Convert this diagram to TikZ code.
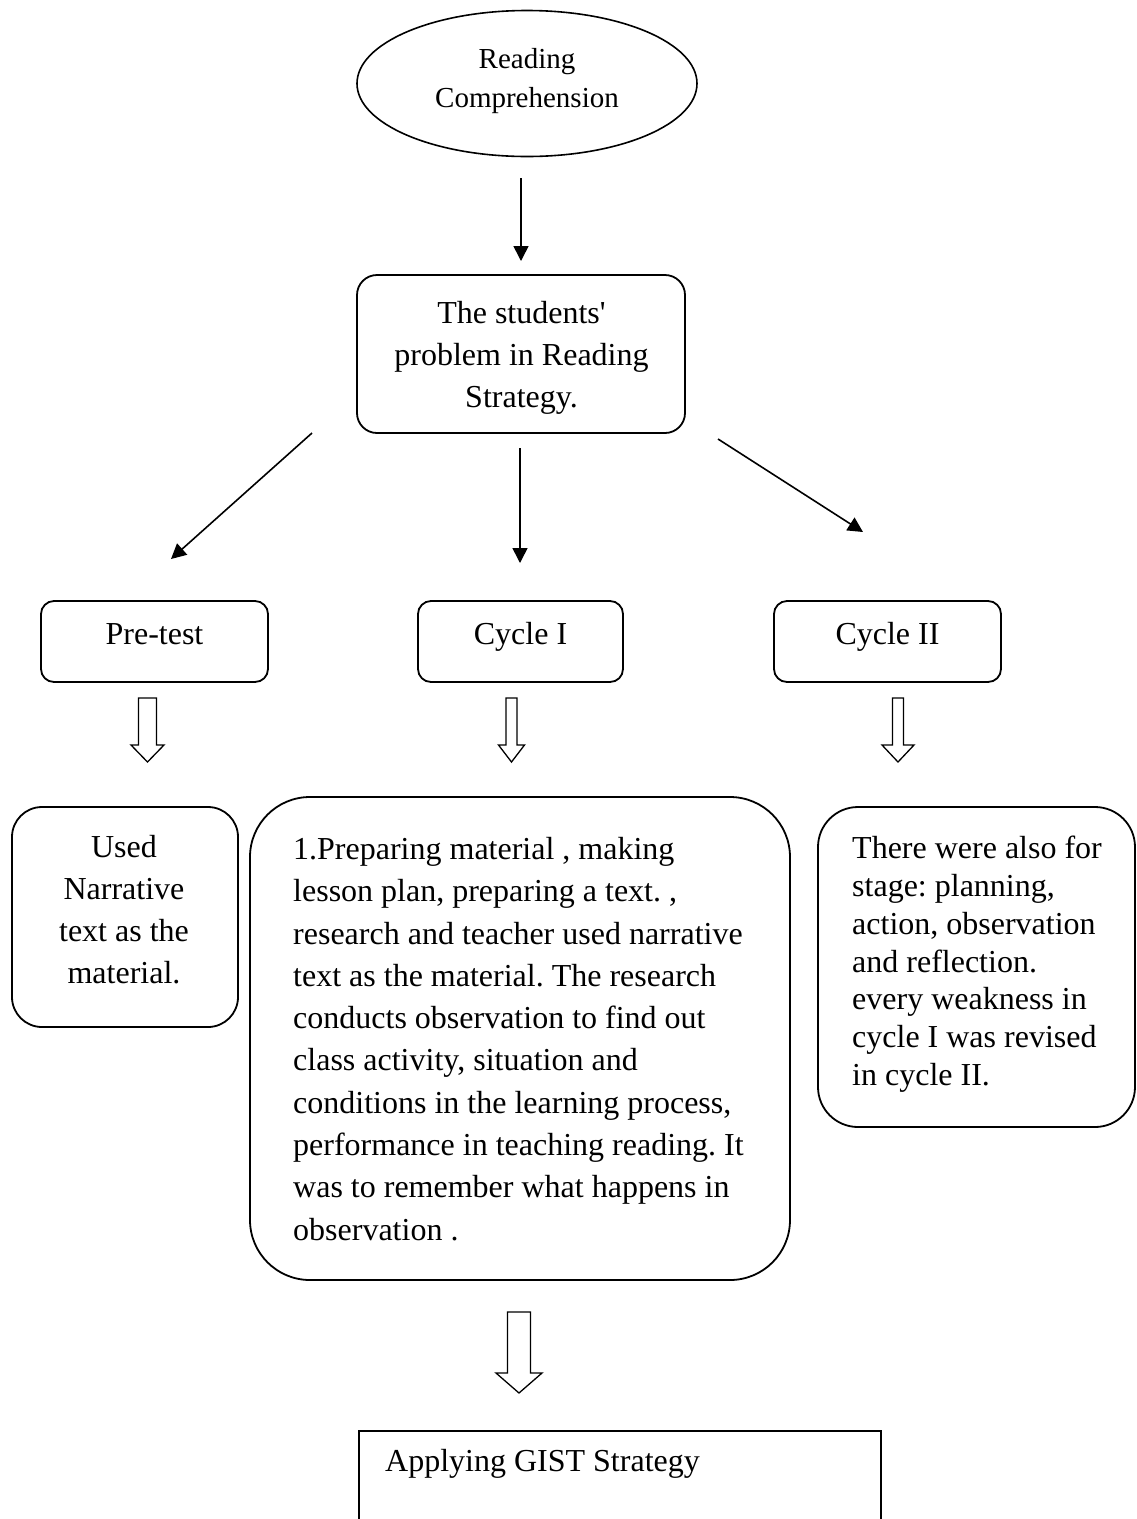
\documentclass[tikz,border=0pt]{standalone}
\usepackage{fontspec}
\setmainfont{Liberation Serif}
\usetikzlibrary{arrows.meta,shapes.geometric}
\frenchspacing
\newcommand\sq{{\addfontfeatures{Ligatures=TeXOff}'}}
\newcommand\hollowdown[5]{%
  \draw[hollowline] (#1) ++(-#3,0) -- ++(0,#2) -- ++(#3-#4,0) -- ++(#4,#5)
    -- ++(#4,-#5) -- ++(#3-#4,0) -- ++(0,-#2) -- cycle;}
\tikzset{
  rbox/.style={draw, line width=1.8pt, rounded corners=#1, inner sep=0pt},
  rbox/.default=13pt,
  txt/.style={inner sep=0pt, font=\fontsize{32}{42}\selectfont},
  arr/.style={line width=1.6pt, -{Triangle[length=15pt,width=15pt]}},
  hollowline/.style={line width=1.3pt, line join=miter},
  small/.style={rbox=13pt, minimum width=227pt, minimum height=81pt,
    font=\fontsize{32}{42}\selectfont, text height=20pt, text depth=15pt}
}
\begin{document}
\frenchspacing
\begin{tikzpicture}[x=1pt,y=-1pt]
\useasboundingbox (0,0) rectangle (1137,1519);
\clip (0,0) rectangle (1137,1519);
\fill[white] (0,0) rectangle (1137,1519);

% top ellipse
\node[ellipse, draw, line width=1.6pt, minimum width=340pt, minimum height=146pt,
  inner sep=0pt] (rc) at (527,83.5) {};
\node[txt, align=center, anchor=north, font=\fontsize{29}{39}\selectfont]
  (rcT) at (527,48) {Reading\\Comprehension};

% problem box
\node[rbox=20pt, minimum width=328pt, minimum height=158pt] (prob) at (521,354) {};
\node[txt, align=center, anchor=north] (probT) at (521.5,301)
  {The students\sq\\problem in Reading\\Strategy.};

% three small boxes
\node[small, minimum width=227pt] (pre) at (154.5,641.5) {Pre-test};
\node[small, minimum width=205pt] (c1) at (520.5,641.5) {Cycle I};
\node[small, minimum width=227pt] (c2) at (887.5,641.5) {Cycle II};

% solid arrows
\coordinate (a0s) at (521,178);
\coordinate (a0e) at (521,261);
\coordinate (aLs) at (312,433);
\coordinate (aLe) at (171,559);
\coordinate (aMs) at (520,448);
\coordinate (aMe) at (520,563);
\coordinate (aRs) at (718,439);
\coordinate (aRe) at (863,532);
\draw[arr] (a0s) -- (a0e);
\draw[arr] (aLs) -- (aLe);
\draw[arr] (aMs) -- (aMe);
\draw[arr] (aRs) -- (aRe);

% hollow arrows
\coordinate (h1) at (147.5,698);
\coordinate (h2) at (511.5,698);
\coordinate (h3) at (898,698);
\coordinate (h4) at (519,1312);
\hollowdown{h1}{47}{9}{16.5}{17}
\hollowdown{h2}{47}{5.5}{13}{17}
\hollowdown{h3}{47}{5.5}{16}{17}
\hollowdown{h4}{61}{11.5}{23}{20}

% left box
\node[rbox=30pt, minimum width=226pt, minimum height=220pt] (used) at (125,917) {};
\node[txt, align=center, anchor=north, font=\fontsize{32}{42}\selectfont] (usedT) at (124,835)
  {Used\\Narrative\\text as the\\material.};

% middle big box
\node[rbox=60pt, minimum width=540pt, minimum height=483pt] (prep) at (520,1038.5) {};
\node[txt, align=left, anchor=north west, font=\fontsize{32}{42.3}\selectfont] (prepT) at (293,837)
  {1.Preparing material , making\\
   lesson plan, preparing a text. ,\\
   research and teacher used narrative\\
   text as the material. The research\\
   conducts observation to find out\\
   class activity, situation and\\
   conditions in the learning process,\\
   performance in teaching reading. It\\
   was to remember what happens in\\
   observation .};

% right box
\node[rbox=40pt, minimum width=317pt, minimum height=320pt] (c2box) at (976.5,967) {};
\node[txt, align=left, anchor=north west, font=\fontsize{32}{37.8}\selectfont] (c2T) at (852,836)
  {There were also for\\
   stage: planning,\\
   action, observation\\
   and reflection.\\
   every weakness in\\
   cycle I was revised\\
   in cycle II.};

% bottom box (cut by page edge)
\node[draw, line width=1.8pt, inner sep=0pt, anchor=north west,
  minimum width=522pt, minimum height=200pt] (gist) at (358,1430) {};
\node[txt, anchor=base west] (gistT) at (385,1471) {Applying GIST Strategy};
\end{tikzpicture}
\end{document}
